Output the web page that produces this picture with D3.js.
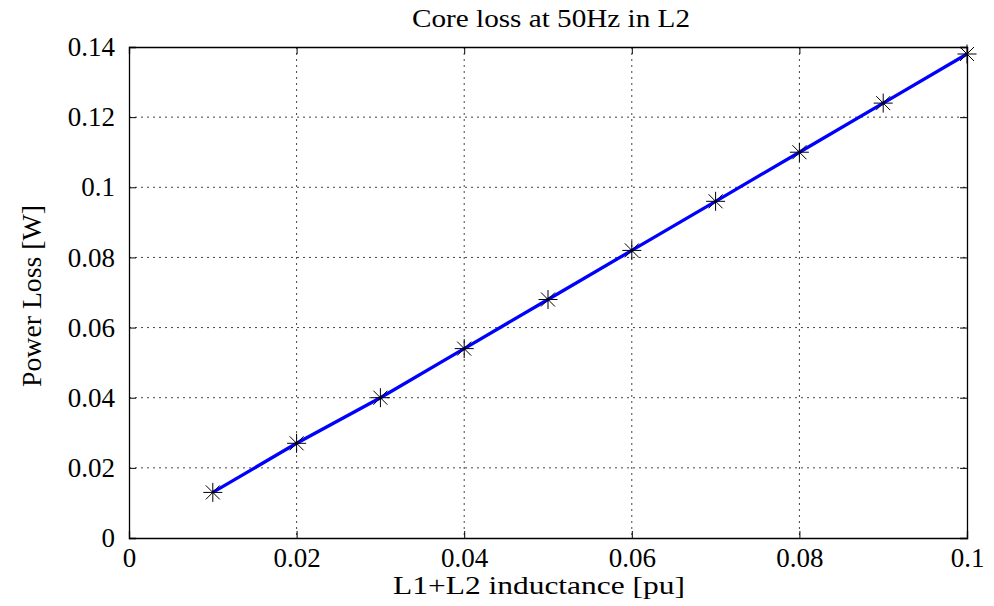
<!DOCTYPE html>
<html><head><meta charset="utf-8">
<script src="https://cdn.jsdelivr.net/npm/d3@7"></script>
<style>body{margin:0;background:#fff}svg{display:block}text{font-family:"Liberation Serif","Times New Roman",serif;fill:#000}</style>
</head><body><svg id="c" width="994" height="606"></svg>
<script>
const inductance = [0.01,0.02,0.03,0.04,0.05,0.06,0.07,0.08,0.09,0.1];
const powerLoss = [0.013,0.027,0.040,0.054,0.068,0.082,0.096,0.110,0.124,0.138];
const xTicks = [0,0.02,0.04,0.06,0.08,0.1];
const yTicks = [0,0.02,0.04,0.06,0.08,0.1,0.12,0.14];
const xTickLabels = ["0","0.02","0.04","0.06","0.08","0.1"];
const yTickLabels = ["0","0.02","0.04","0.06","0.08","0.1","0.12","0.14"];
const title = "Core loss at 50Hz in L2";
const xLabel = "L1+L2 inductance [pu]";
const yLabel = "Power Loss [W]";

const L=129,R=967,T=47,B=538;
const svg=d3.select("#c");
const x=d3.scaleLinear().domain([0,0.1]).range([L,R]);
const y=d3.scaleLinear().domain([0,0.14]).range([B,T]);

// grid
const g=svg.append("g");
xTicks.forEach(t=>{ if(t>0&&t<0.1) g.append("line").attr("x1",x(t)).attr("x2",x(t)).attr("y1",T).attr("y2",B).attr("stroke","#444").attr("stroke-width",1).attr("stroke-dasharray","2,4");});
yTicks.forEach(t=>{ if(t>0&&t<0.14) g.append("line").attr("x1",L).attr("x2",R).attr("y1",y(t)).attr("y2",y(t)).attr("stroke","#444").attr("stroke-width",1).attr("stroke-dasharray","2,4");});

// axes
const xb=svg.append("g").attr("transform",`translate(0,${B})`).call(d3.axisBottom(x).tickValues(xTicks).tickSize(-7).tickPadding(10).tickFormat((d,i)=>xTickLabels[i]));
const xt=svg.append("g").attr("transform",`translate(0,${T})`).call(d3.axisTop(x).tickValues(xTicks).tickSize(-7).tickFormat(""));
const yl=svg.append("g").attr("transform",`translate(${L},0)`).call(d3.axisLeft(y).tickValues(yTicks).tickSize(-7).tickPadding(14).tickFormat((d,i)=>yTickLabels[i]));
const yr=svg.append("g").attr("transform",`translate(${R},0)`).call(d3.axisRight(y).tickValues(yTicks).tickSize(-7).tickFormat(""));
[xb,xt,yl,yr].forEach(a=>{a.select(".domain").attr("stroke","#000").attr("stroke-width",1.3);a.selectAll(".tick line").attr("stroke","#000");a.selectAll("text").style("font-size","27px").style("font-family","'Liberation Serif', serif").attr("fill","#000");});

// line
svg.append("path").datum(inductance.map((d,i)=>[d,powerLoss[i]]))
 .attr("d",d3.line().x(d=>x(d[0])).y(d=>y(d[1])))
 .attr("fill","none").attr("stroke","#0000ff").attr("stroke-width",3.3);

// markers (asterisk)
const s=9.5, s2=7;
inductance.forEach((d,i)=>{
  const cx=x(d), cy=y(powerLoss[i]);
  const m=svg.append("g").attr("stroke","#000").attr("stroke-width",1);
  m.append("line").attr("x1",cx).attr("x2",cx).attr("y1",cy-s).attr("y2",cy+s);
  m.append("line").attr("x1",cx-s).attr("x2",cx+s).attr("y1",cy).attr("y2",cy);
  m.append("line").attr("x1",cx-s2).attr("x2",cx+s2).attr("y1",cy-s2).attr("y2",cy+s2);
  m.append("line").attr("x1",cx-s2).attr("x2",cx+s2).attr("y1",cy+s2).attr("y2",cy-s2);
});

svg.append("text").attr("x",412).attr("y",27).attr("textLength",278).attr("lengthAdjust","spacingAndGlyphs").style("font-size","26px").text(title);
svg.append("text").attr("x",393).attr("y",594).attr("textLength",292).attr("lengthAdjust","spacingAndGlyphs").style("font-size","25px").text(xLabel);
svg.append("text").attr("transform",`translate(41,387) rotate(-90)`).attr("textLength",182).attr("lengthAdjust","spacingAndGlyphs").style("font-size","27px").text(yLabel);
</script></body></html>
